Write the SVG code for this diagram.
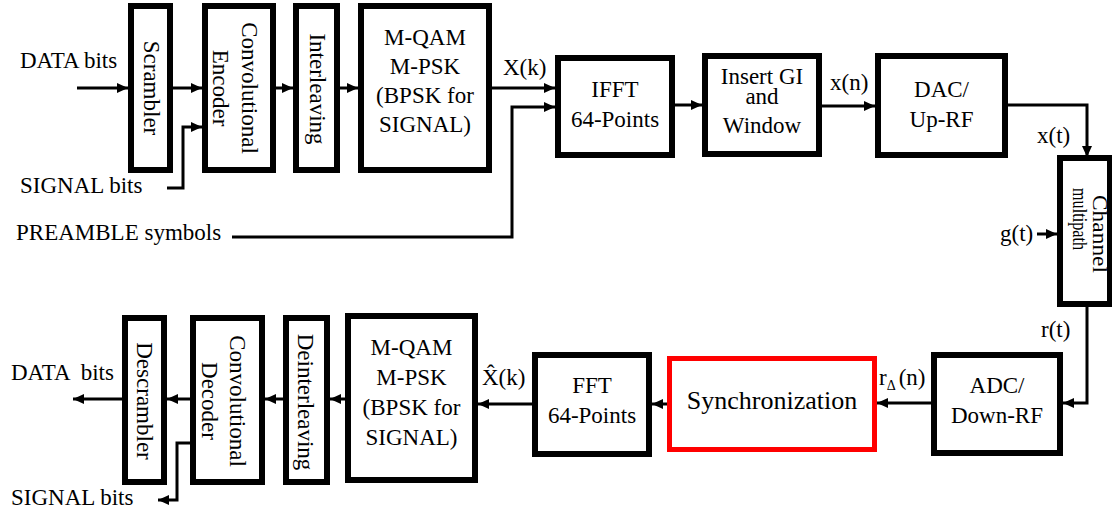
<svg xmlns="http://www.w3.org/2000/svg" width="1112" height="513" viewBox="0 0 1112 513">
<defs>
<marker id="ah" markerUnits="userSpaceOnUse" markerWidth="12" markerHeight="12" refX="11" refY="6" orient="auto">
<path d="M0,1 L11,6 L0,11 z" fill="#000"/>
</marker>
<style>
text{font-family:"Liberation Serif","Times New Roman","DejaVu Serif",serif;font-size:23px;fill:#000}
.m{text-anchor:middle}
.big{font-size:26px}
.sub{font-size:14px}
.ch{font-size:22px}
.mp{font-size:20px}
.b{fill:#fff;stroke:#000;stroke-width:6}
.r{fill:#fff;stroke:#f00;stroke-width:5}
.c{fill:none;stroke:#000;stroke-width:3;marker-end:url(#ah)}
</style>
</defs>
<rect width="1112" height="513" fill="#fff"/>
<g id="connectors">
<path class="c" d="M77,88 H128"/>
<path class="c" d="M173,88 H202"/>
<path class="c" d="M167,188 H183 V127 H202"/>
<path class="c" d="M276,88 H293"/>
<path class="c" d="M340,88 H358"/>
<path class="c" d="M492,88 H555"/>
<path class="c" d="M232,237 H512 V107 H555"/>
<path class="c" d="M675,105 H702"/>
<path class="c" d="M822,106 H875"/>
<path class="c" d="M1008,105 H1087 V157"/>
<path class="c" d="M1037,234 H1057"/>
<path class="c" d="M1087,307 V403 H1063"/>
<path class="c" d="M931,403 H877"/>
<path class="c" d="M667,404 H652"/>
<path class="c" d="M532,404 H478"/>
<path class="c" d="M345,399 H330"/>
<path class="c" d="M283,399 H265"/>
<path class="c" d="M190,399 H167"/>
<path class="c" d="M122,399 H73"/>
<path class="c" d="M190,443 H177 V500 H158"/>
</g>
<g id="labels">
<text x="20" y="68">DATA bits</text>
<text x="20" y="193">SIGNAL bits</text>
<text x="16" y="240">PREAMBLE symbols</text>
<text x="503" y="75">X(k)</text>
<text x="830" y="90">x(n)</text>
<text x="1037" y="143">x(t)</text>
<text x="1000" y="241">g(t)</text>
<text x="1041" y="337">r(t)</text>
<text x="879" y="385">r<tspan class="sub" dy="5">Δ</tspan><tspan dy="-5" dx="3">(n)</tspan></text>
<text x="482" y="385">X̂(k)</text>
<text x="11" y="380" xml:space="preserve">DATA  bits</text>
<text x="11" y="505">SIGNAL bits</text>
</g>
<g id="scrambler">
<rect class="b" x="131" y="6" width="39" height="164"/>
<text class="m" transform="translate(143.5,88) rotate(90)">Scrambler</text>
</g>
<g id="conv-encoder">
<rect class="b" x="205" y="6" width="68" height="164"/>
<text class="m" transform="translate(242,88) rotate(90)">Convolutional</text>
<text class="m" transform="translate(213,88) rotate(90)">Encoder</text>
</g>
<g id="interleaving">
<rect class="b" x="296" y="6" width="41" height="164"/>
<text class="m" transform="translate(310,89) rotate(90)">Interleaving</text>
</g>
<g id="mapper">
<rect class="b" x="361" y="6" width="128" height="164"/>
<text class="m" x="425" y="45">M-QAM</text>
<text class="m" x="425" y="74">M-PSK</text>
<text class="m" x="425" y="103">(BPSK for</text>
<text class="m" x="425" y="132">SIGNAL)</text>
</g>
<g id="ifft">
<rect class="b" x="558" y="58" width="114" height="97"/>
<text class="m" x="615" y="97">IFFT</text>
<text class="m" x="615" y="127">64-Points</text>
</g>
<g id="insert-gi">
<rect class="b" x="705" y="56" width="114" height="98"/>
<text class="m" x="762" y="84">Insert GI</text>
<text class="m" x="762" y="104">and</text>
<text class="m" x="762" y="133">Window</text>
</g>
<g id="dac">
<rect class="b" x="878" y="56" width="127" height="99"/>
<text class="m" x="941.5" y="97">DAC/</text>
<text class="m" x="941.5" y="127">Up-RF</text>
</g>
<g id="channel">
<rect class="b" x="1060" y="158" width="50" height="146"/>
<text class="ch" transform="translate(1093,195) rotate(90)" textLength="78" lengthAdjust="spacingAndGlyphs">Channel</text>
<text class="mp" transform="translate(1073,188) rotate(90)" textLength="62" lengthAdjust="spacingAndGlyphs">multipath</text>
</g>
<g id="adc">
<rect class="b" x="934" y="355" width="126" height="98"/>
<text class="m" x="997" y="393">ADC/</text>
<text class="m" x="997" y="423">Down-RF</text>
</g>
<g id="sync">
<rect class="r" x="669.5" y="358.5" width="205" height="91"/>
<text class="m big" x="772" y="409">Synchronization</text>
</g>
<g id="fft">
<rect class="b" x="535" y="355" width="114" height="99"/>
<text class="m" x="592" y="393">FFT</text>
<text class="m" x="592" y="423">64-Points</text>
</g>
<g id="demapper">
<rect class="b" x="348" y="316" width="127" height="164"/>
<text class="m" x="411.5" y="355">M-QAM</text>
<text class="m" x="411.5" y="385">M-PSK</text>
<text class="m" x="411.5" y="415">(BPSK for</text>
<text class="m" x="411.5" y="445">SIGNAL)</text>
</g>
<g id="deinterleaving">
<rect class="b" x="286" y="318" width="41" height="164"/>
<text class="m" transform="translate(298,402) rotate(90)">Deinterleaving</text>
</g>
<g id="conv-decoder">
<rect class="b" x="193" y="318" width="69" height="164"/>
<text class="m" transform="translate(230,401) rotate(90)">Convolutional</text>
<text class="m" transform="translate(202,401) rotate(90)">Decoder</text>
</g>
<g id="descrambler">
<rect class="b" x="125" y="318" width="39" height="164"/>
<text class="m" transform="translate(137,401) rotate(90)">Descrambler</text>
</g>
</svg>
